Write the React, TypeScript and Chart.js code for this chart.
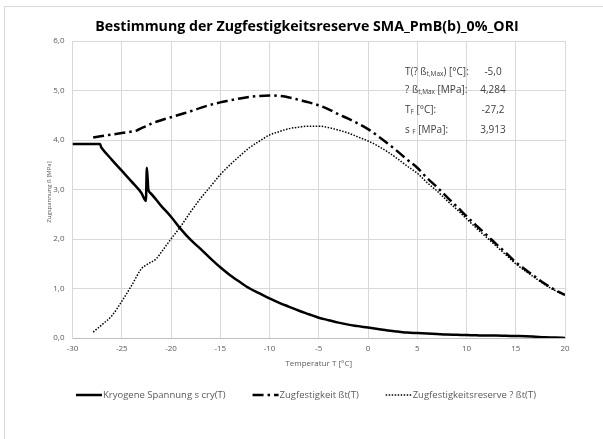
import React, { useEffect, useRef } from "react";
import { Chart, registerables } from "chart.js";

Chart.register(...registerables);

// ---------- data ----------
const cryoT = [-30, -27.2, -27.1, -27.0, -26, -25, -24, -23, -22.55, -22.45, -22.3, -22.1, -21, -20, -19, -18, -17, -16, -15, -14, -13, -12, -11, -10, -9, -8, -7, -6, -5, -4, -3, -2, -1, 0, 1, 2, 3, 4, 5, 6, 7, 8, 9, 10, 11, 12, 13, 14, 15, 16, 17, 18, 19, 20];
const cryoV = [3.92, 3.92, 3.86, 3.83, 3.6, 3.38, 3.16, 2.93, 2.77, 3.44, 3.0, 2.93, 2.67, 2.45, 2.2, 1.98, 1.8, 1.61, 1.43, 1.27, 1.13, 1.0, 0.9, 0.8, 0.71, 0.63, 0.55, 0.48, 0.41, 0.36, 0.31, 0.27, 0.24, 0.21, 0.18, 0.15, 0.13, 0.11, 0.1, 0.09, 0.08, 0.07, 0.065, 0.06, 0.055, 0.05, 0.05, 0.045, 0.04, 0.035, 0.025, 0.015, 0.01, 0.0];

const strengthT = [-27.9, -27, -26, -25, -24, -23.5, -23, -22.5, -22, -21, -20, -19, -18, -17, -16, -15, -14, -13, -12, -11, -10, -9, -8, -7, -6, -5, -4, -3, -2, -1, 0, 1, 2, 3, 4, 5, 6, 7, 8, 9, 10, 11, 12, 13, 14, 15, 16, 17, 18, 19, 20];
const strengthV = [4.05, 4.08, 4.11, 4.14, 4.17, 4.19, 4.24, 4.28, 4.33, 4.4, 4.46, 4.52, 4.58, 4.65, 4.71, 4.76, 4.8, 4.84, 4.87, 4.89, 4.9, 4.89, 4.86, 4.81, 4.76, 4.7, 4.62, 4.52, 4.43, 4.33, 4.22, 4.08, 3.93, 3.77, 3.6, 3.44, 3.23, 3.05, 2.85, 2.66, 2.46, 2.27, 2.09, 1.9, 1.72, 1.53, 1.38, 1.23, 1.09, 0.97, 0.87];

const reserveT = [-27.9, -27, -26, -25, -24, -23, -22.5, -21.5, -21, -20, -19, -18, -17, -16, -15, -14, -13, -12, -11, -10, -9, -8, -7, -6, -5, -4, -3, -2, -1, 0, 1, 2, 3, 4, 5, 6, 7, 8, 9, 10, 11, 12, 13, 14, 15, 16, 17, 18, 19, 20];
const reserveV = [0.12, 0.27, 0.45, 0.74, 1.06, 1.4, 1.48, 1.6, 1.73, 2.0, 2.26, 2.55, 2.82, 3.06, 3.3, 3.5, 3.68, 3.85, 3.98, 4.1, 4.17, 4.23, 4.26, 4.28, 4.28, 4.25, 4.2, 4.14, 4.06, 3.98, 3.88, 3.76, 3.62, 3.47, 3.33, 3.14, 2.97, 2.78, 2.6, 2.41, 2.22, 2.04, 1.86, 1.68, 1.5, 1.35, 1.21, 1.07, 0.96, 0.86];

const titleText = "Bestimmung der Zugfestigkeitsreserve SMA_PmB(b)_0%_ORI";
const xAxisTitle = "Temperatur T [°C]";
const yAxisTitle = "Zugspannung ß [MPa]";
const seriesNames = ["Kryogene Spannung s cry(T)", "Zugfestigkeit ßt(T)", "Zugfestigkeitsreserve ? ßt(T)"];

// info box: [text, isSubscript] parts, value
const infoLabels: [string, boolean][][] = [
  [["T(? ß", false], ["t,Max", true], [") [°C]:", false]],
  [["? ß", false], ["t,Max", true], [" [MPa]:", false]],
  [["T", false], ["F", true], [" [°C]:", false]],
  [["s ", false], ["F", true], [" [MPa]:", false]],
];
const infoValues = ["-5,0", "4,284", "-27,2", "3,913"];

const FONT = "'Open Sans', 'Noto Sans', sans-serif";
const GREY = "#595959";

const styles = [
  { width: 2.5, dash: [] as number[] },
  { width: 2.5, dash: [11, 4, 2.5, 4] },
  { width: 1.5, dash: [1.5, 1.5] },
];

const toPts = (xs: number[], ys: number[]) => xs.map((x, i) => ({ x, y: ys[i] }));

const decorPlugin = {
  id: "decor",
  beforeDraw(chart: any) {
    const ctx = chart.ctx as CanvasRenderingContext2D;
    ctx.save();
    ctx.fillStyle = "#ffffff";
    ctx.fillRect(0, 0, chart.width, chart.height);
    ctx.strokeStyle = "#d9d9d9";
    ctx.lineWidth = 1;
    ctx.strokeRect(4.5, 6.5, 700, 500);
    ctx.restore();
  },
  afterDraw(chart: any) {
    const ctx = chart.ctx as CanvasRenderingContext2D;
    const area = chart.chartArea;
    ctx.save();
    // title
    ctx.fillStyle = "#000000";
    ctx.font = `bold 14.2px ${FONT}`;
    ctx.textAlign = "center";
    ctx.textBaseline = "middle";
    ctx.fillText(titleText, 307, 27);

    // x axis title
    ctx.fillStyle = GREY;
    ctx.font = `8px ${FONT}`;
    ctx.fillText(xAxisTitle, (area.left + area.right) / 2, 364);

    // y axis title
    ctx.save();
    ctx.translate(49, 192);
    ctx.rotate(-Math.PI / 2);
    ctx.font = `6px ${FONT}`;
    ctx.fillText(yAxisTitle, 0, 0);
    ctx.restore();

    // info box
    const rowsY = [72, 90, 110, 130];
    ctx.fillStyle = "#404040";
    ctx.textBaseline = "middle";
    infoLabels.forEach((parts, i) => {
      let x = 405;
      const y = rowsY[i];
      parts.forEach(([txt, sub]) => {
        ctx.textAlign = "left";
        ctx.font = sub ? `6.5px ${FONT}` : `10px ${FONT}`;
        ctx.fillText(txt, x, sub ? y + 2 : y);
        x += ctx.measureText(txt).width;
      });
      ctx.font = `10px ${FONT}`;
      ctx.textAlign = "center";
      ctx.fillText(infoValues[i], 493, y);
    });

    // legend
    ctx.font = `9.5px ${FONT}`;
    const lineLen = 26;
    const gap = 27;
    const widths = seriesNames.map((n) => ctx.measureText(n).width);
    let lx = 76;
    const ly = 395;
    seriesNames.forEach((name, i) => {
      const st = styles[i];
      ctx.strokeStyle = "#000000";
      ctx.lineWidth = st.width;
      ctx.setLineDash(st.dash);
      ctx.beginPath();
      ctx.moveTo(lx, ly);
      ctx.lineTo(lx + lineLen, ly);
      ctx.stroke();
      ctx.setLineDash([]);
      ctx.fillStyle = GREY;
      ctx.textAlign = "left";
      ctx.textBaseline = "middle";
      ctx.fillText(name, lx + lineLen + 1, ly);
      lx += lineLen + 1 + widths[i] + gap;
    });
    ctx.restore();
  },
};

export default function App() {
  const canvasRef = useRef<HTMLCanvasElement | null>(null);

  useEffect(() => {
    const canvas = canvasRef.current;
    if (!canvas) return;
    const datasets = [
      { label: seriesNames[0], data: toPts(cryoT, cryoV) },
      { label: seriesNames[1], data: toPts(strengthT, strengthV) },
      { label: seriesNames[2], data: toPts(reserveT, reserveV) },
    ].map((d, i) => ({
      ...d,
      showLine: true,
      borderColor: "#000000",
      backgroundColor: "#000000",
      borderWidth: styles[i].width,
      borderDash: styles[i].dash,
      pointRadius: 0,
      cubicInterpolationMode: "monotone",
      fill: false,
    }));

    const chart = new Chart(canvas, {
      type: "scatter",
      data: { datasets },
      options: {
        responsive: false,
        animation: false,
        layout: { padding: { left: 0, right: 38, top: 41, bottom: 0 } },
        plugins: {
          legend: { display: false },
          title: { display: false },
          tooltip: { enabled: false },
        },
        scales: {
          x: {
            type: "linear",
            min: -30,
            max: 20,
            ticks: {
              stepSize: 5,
              color: GREY,
              font: { size: 8, family: FONT },
              padding: 6,
              maxRotation: 0,
              autoSkip: false,
            },
            grid: { color: "#d9d9d9", drawTicks: false, lineWidth: 1 },
            border: { color: "#bfbfbf" },
            afterFit: (s: any) => {
              s.height = 101;
            },
          },
          y: {
            min: 0,
            max: 6,
            ticks: {
              stepSize: 1,
              color: GREY,
              font: { size: 8, family: FONT },
              padding: 8,
              callback: (v: any) => Number(v).toFixed(1).replace(".", ","),
            },
            grid: { color: "#d9d9d9", drawTicks: false, lineWidth: 1 },
            border: { color: "#d9d9d9" },
            afterFit: (s: any) => {
              s.width = 72.5;
            },
          },
        },
      },
      plugins: [decorPlugin],
    } as any);

    return () => chart.destroy();
  }, []);

  return (
    <div style={{ position: "fixed", left: 0, top: 0, width: 603, height: 439, background: "#fff" }}>
      <canvas ref={canvasRef} width={603} height={439} style={{ display: "block", width: 603, height: 439 }} />
    </div>
  );
}
